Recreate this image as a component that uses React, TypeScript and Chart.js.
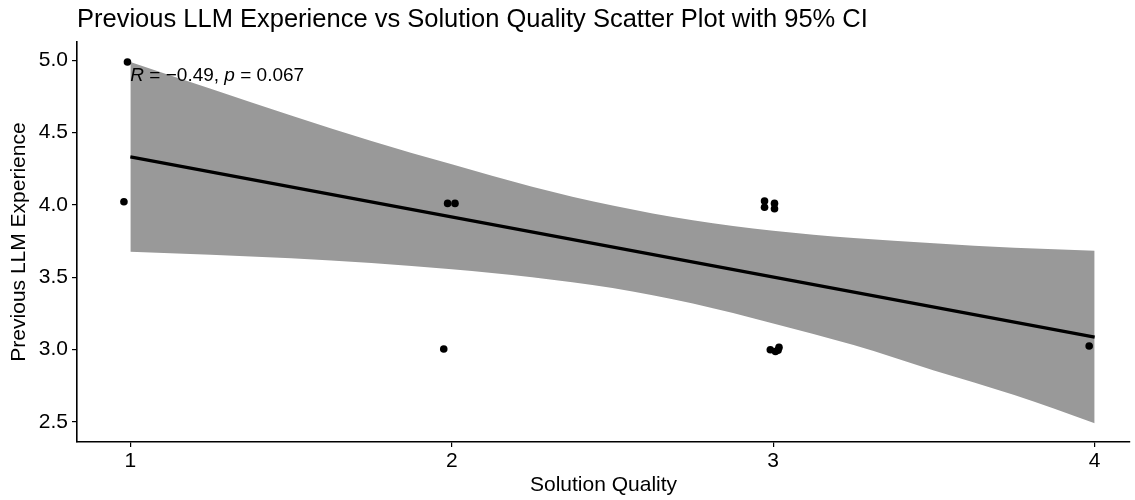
import React, { useEffect, useRef } from "react";
import { Chart, registerables } from "chart.js";

Chart.register(...registerables);

const chartTitle = "Previous LLM Experience vs Solution Quality Scatter Plot with 95% CI";
const xAxisTitle = "Solution Quality";
const yAxisTitle = "Previous LLM Experience";

const xTicks = [1, 2, 3, 4];
const yTicks = [2.5, 3.0, 3.5, 4.0, 4.5, 5.0];

const pointX = [0.991, 0.98, 1.987, 2.01, 1.975, 2.973, 2.973, 3.004, 3.004, 2.991, 3.007, 3.018, 3.015, 3.983];
const pointY = [4.988, 4.021, 4.01, 4.01, 3.003, 4.026, 3.983, 4.01, 3.973, 2.998, 2.986, 3.014, 2.995, 3.024];

// fitted regression line
const fitX = [1, 4];
const fitY = [4.332, 3.085];

// 95% confidence band
const bandX = [1, 1.25, 1.5, 1.75, 2, 2.25, 2.5, 2.75, 3, 3.25, 3.5, 3.75, 4];
const bandUpper = [4.988, 4.802, 4.618, 4.442, 4.28, 4.125, 3.995, 3.893, 3.821, 3.77, 3.734, 3.703, 3.683];
const bandLower = [3.676, 3.654, 3.63, 3.598, 3.555, 3.5, 3.425, 3.318, 3.18, 3.03, 2.855, 2.685, 2.49];

const corR = "−0.49";
const corP = "0.067";
const corLabelX = 1.0;
const corLabelY = 4.855;

const FONT = '"Liberation Sans", Arial, Helvetica, sans-serif';

const textPlugin = {
  id: "customText",
  afterDraw(chart: any) {
    const ctx = chart.ctx;
    const area = chart.chartArea;
    ctx.save();
    ctx.fillStyle = "#000";
    ctx.textBaseline = "alphabetic";
    ctx.textAlign = "left";
    ctx.font = `25.5px ${FONT}`;
    ctx.fillText(chartTitle, area.left, 27);

    const xs = chart.scales.x;
    const ys = chart.scales.y;
    let x = xs.getPixelForValue(corLabelX);
    const y = ys.getPixelForValue(corLabelY);
    const parts: [string, boolean][] = [
      ["R", true],
      [" = ", false],
      [corR + ", ", false],
      ["p", true],
      [" = ", false],
      [corP, false],
    ];
    for (const [t, it] of parts) {
      ctx.font = `${it ? "italic " : ""}19px ${FONT}`;
      ctx.fillText(t, x, y);
      x += ctx.measureText(t).width;
    }
    ctx.restore();
  },
};

export default function App() {
  const ref = useRef<HTMLCanvasElement | null>(null);

  useEffect(() => {
    document.body.style.margin = "0";
    if (!ref.current) return;
    const points = pointX.map((x, i) => ({ x, y: pointY[i] }));
    const fit = fitX.map((x, i) => ({ x, y: fitY[i] }));
    const upper = bandX.map((x, i) => ({ x, y: bandUpper[i] }));
    const lower = bandX.map((x, i) => ({ x, y: bandLower[i] }));

    const tickFont = { family: FONT, size: 21 };
    const titleFont = { family: FONT, size: 21 };

    const chart = new Chart(ref.current, {
      type: "line",
      data: {
        datasets: [
          {
            type: "scatter",
            data: points,
            backgroundColor: "#000",
            borderColor: "#000",
            pointRadius: 3.8,
            pointBorderWidth: 0,
            showLine: false,
            order: 0,
          } as any,
          {
            data: fit,
            borderColor: "#000",
            borderWidth: 3.2,
            pointRadius: 0,
            fill: false,
            order: 1,
          },
          {
            data: upper,
            borderWidth: 0,
            borderColor: "rgba(0,0,0,0)",
            backgroundColor: "rgb(153,153,153)",
            pointRadius: 0,
            fill: "+1",
            cubicInterpolationMode: "monotone",
            order: 2,
          },
          {
            data: lower,
            borderWidth: 0,
            borderColor: "rgba(0,0,0,0)",
            pointRadius: 0,
            fill: false,
            cubicInterpolationMode: "monotone",
            order: 3,
          },
        ],
      },
      options: {
        animation: false,
        responsive: false,
        devicePixelRatio: 1,
        layout: { padding: { top: 42, right: 5, bottom: 0, left: 0 } },
        plugins: {
          legend: { display: false },
          tooltip: { enabled: false },
          title: { display: false },
        },
        scales: {
          x: {
            type: "linear",
            min: 0.834,
            max: 4.11,
            afterBuildTicks: (s: any) => {
              s.ticks = xTicks.map((v) => ({ value: v }));
            },
            afterFit: (s: any) => {
              s.height = 58;
            },
            ticks: {
              font: tickFont,
              color: "#000",
              padding: 2,
              callback: (v: any) => String(v),
            },
            grid: {
              display: true,
              drawOnChartArea: false,
              drawTicks: true,
              tickLength: 5,
              color: "#000",
              lineWidth: 1.2,
            },
            border: { display: true, color: "#000", width: 1.6 },
            title: {
              display: true,
              text: xAxisTitle,
              font: titleFont,
              color: "#000",
              padding: { top: 0, bottom: 2 },
            },
          },
          y: {
            type: "linear",
            min: 2.36,
            max: 5.126,
            afterBuildTicks: (s: any) => {
              s.ticks = yTicks.map((v) => ({ value: v }));
            },
            afterFit: (s: any) => {
              s.width = 77;
            },
            ticks: {
              font: tickFont,
              color: "#000",
              padding: 4,
              callback: (v: any) => Number(v).toFixed(1),
            },
            grid: {
              display: true,
              drawOnChartArea: false,
              drawTicks: true,
              tickLength: 5,
              color: "#000",
              lineWidth: 1.2,
            },
            border: { display: true, color: "#000", width: 1.6 },
            title: {
              display: true,
              text: yAxisTitle,
              font: titleFont,
              color: "#000",
              padding: { top: 6.5, bottom: 0 },
            },
          },
        },
      },
      plugins: [textPlugin],
    } as any);
    return () => chart.destroy();
  }, []);

  return (
    <div style={{ width: 1135, height: 500 }}>
      <canvas ref={ref} width={1135} height={500} />
    </div>
  );
}
